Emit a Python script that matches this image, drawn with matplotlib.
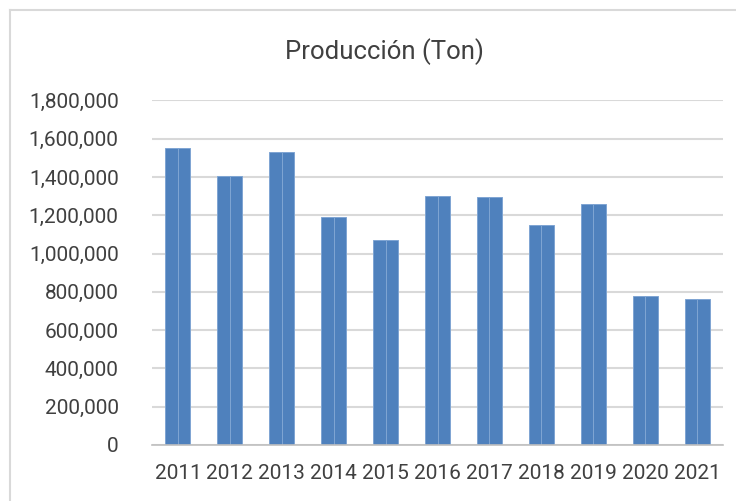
import matplotlib.pyplot as plt
from matplotlib.lines import Line2D
from matplotlib.ticker import FuncFormatter
import numpy as np

# Data
years = ['2011', '2012', '2013', '2014', '2015', '2016', '2017', '2018', '2019', '2020', '2021']
produccion = [1553000, 1407000, 1528000, 1190000, 1070000, 1302000, 1296000, 1148000, 1256000, 777000, 765000]
yticks = [0, 200000, 400000, 600000, 800000, 1000000, 1200000, 1400000, 1600000, 1800000]

BAR = '#4F81BD'
EDGE = '#7FA5D3'
TEXT = '#404040'
GRID = '#D9D9D9'

plt.rcParams['font.family'] = ['Roboto', 'DejaVu Sans']

fig = plt.figure(figsize=(7.36, 5.01), dpi=100)
ax = fig.add_axes([152/736, 1-445/501, (723-152)/736, (445-100.3)/501])

x = np.arange(len(years))
w = 0.48
# each bar drawn as two halves, like the split look of the original
ax.bar(x, produccion, width=-w/2, align='edge', color=BAR, edgecolor=EDGE, linewidth=0.7, zorder=3)
ax.bar(x, produccion, width=w/2, align='edge', color=BAR, edgecolor=EDGE, linewidth=0.7, zorder=3)

ax.set_xlim(-0.5, len(years)-0.5)
ax.set_ylim(0, 1800000)
ax.set_yticks(yticks)
ax.yaxis.set_major_formatter(FuncFormatter(lambda v, p: '{:,.0f}'.format(v)))
ax.set_xticks(x)
ax.set_xticklabels(years)
ax.grid(axis='y', color=GRID, linewidth=1.5, zorder=0)
ax.tick_params(length=0, labelsize=15, labelcolor=TEXT)
ax.tick_params(axis='y', pad=24)
ax.tick_params(axis='x', pad=14)
for s in ['top', 'right', 'left']:
    ax.spines[s].set_visible(False)
ax.spines['bottom'].set_color('#BFBFBF')
ax.spines['bottom'].set_linewidth(1.2)
ax.spines['bottom'].set_zorder(4)

fig.text(384/736, 1-52/501, 'Producción (Ton)', ha='center', va='center', fontsize=18.5, color=TEXT)

# chart area border (cut off at right and bottom)
fig.add_artist(Line2D([10/736, 10/736], [0, 1-10/501], color=GRID, linewidth=1.5))
fig.add_artist(Line2D([10/736, 1], [1-10/501, 1-10/501], color=GRID, linewidth=1.5))

plt.savefig('out.png', dpi=100)
